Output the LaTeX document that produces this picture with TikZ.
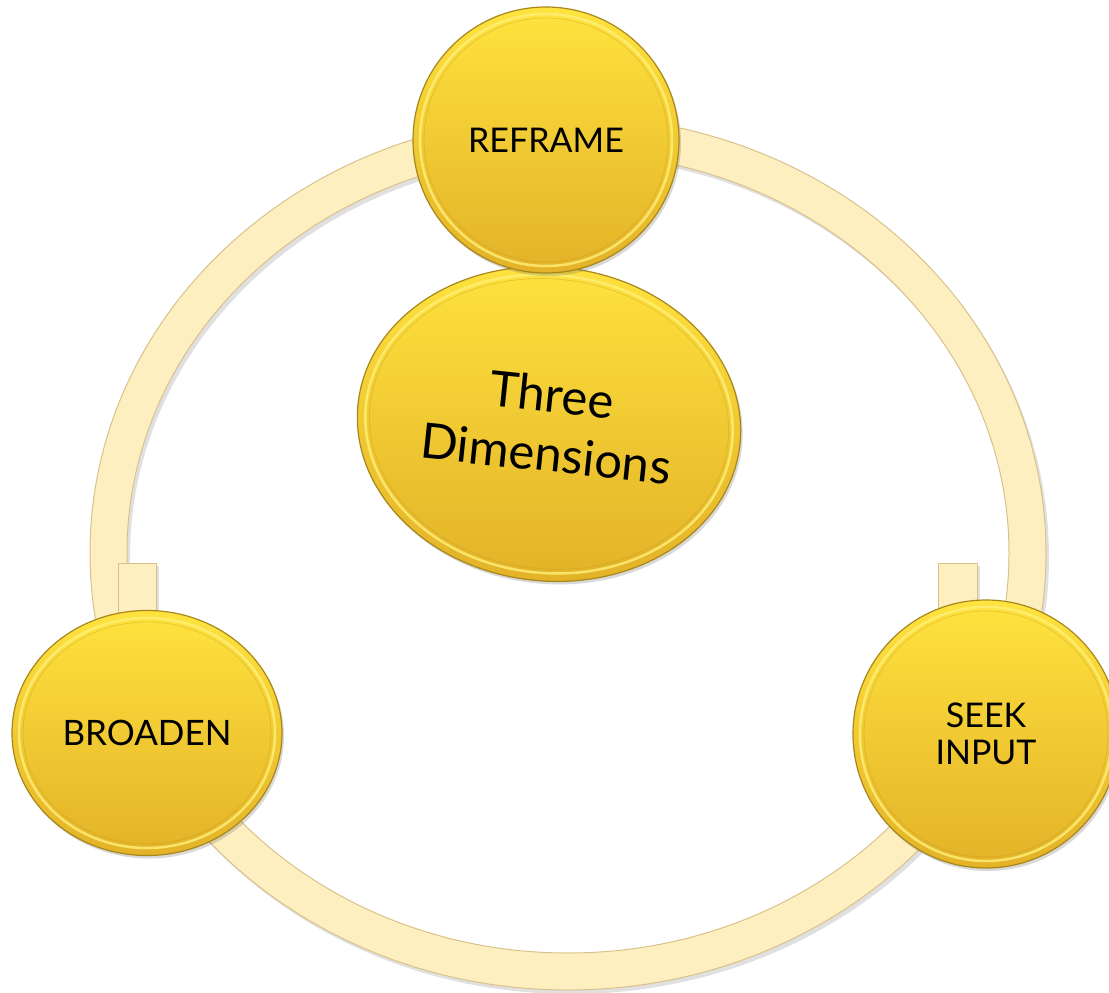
\documentclass[tikz,border=0pt]{standalone}
\usepackage{fontspec}
\setmainfont{Lato}
\usetikzlibrary{shapes.geometric,shadows}
\definecolor{ringfill}{HTML}{FEEFC1}
\definecolor{ringedge}{HTML}{D9C28A}
\definecolor{goldtop}{HTML}{FFE33E}
\definecolor{goldbot}{HTML}{E3B228}
\definecolor{goldedge}{HTML}{A8871A}
\definecolor{goldhi}{HTML}{FFF07A}
\begin{document}
\begin{tikzpicture}[x=1pt,y=-1pt,
  bubble/.style={ellipse, inner sep=0pt, shading=axis, top color=goldtop, bottom color=goldbot,
    draw=goldedge, line width=1.2pt,
    drop shadow={shadow xshift=2pt, shadow yshift=-3pt, opacity=0.25, fill=black!60},
    font=\fontsize{34}{37}\selectfont, align=center, text=black},
  bevel/.style={draw=goldhi, line width=2.5pt, opacity=0.8},
  bevelshade/.style={draw=goldbot!80!black, line width=0.8pt, opacity=0.3},
  ring/.style={fill=ringfill, draw=ringedge, line width=1pt, even odd rule},
  ringshadow/.style={fill=black, opacity=0.12, even odd rule},
]
\useasboundingbox (0,0) rectangle (1109,993);
% ring
\fill[ringshadow] (571,557) ellipse [x radius=478, y radius=437] (571,557) ellipse [x radius=441, y radius=400];
\filldraw[ring] (568,553) ellipse [x radius=478, y radius=437] (568,553) ellipse [x radius=441, y radius=400];
% arrow stubs
\fill[ringshadow] (121,566) rectangle (159,650);
\fill[ringshadow] (941,566) rectangle (980,650);
\filldraw[ring] (118,563) rectangle (156,650);
\filldraw[ring] (938,563) rectangle (977,650);
% centre
\node[bubble, minimum width=384pt, minimum height=314pt, rotate=-6,
  font=\fontsize{49}{59}\selectfont] (dims) at (549,424) {Three\\Dimensions};
\draw[bevel, rotate around={-6:(dims.center)}] (dims.center) ellipse [x radius=184, y radius=149];
\draw[bevelshade, rotate around={-6:(dims.center)}] (dims.center) ellipse [x radius=180, y radius=145];
% outer bubbles
\node[bubble, minimum width=266pt, minimum height=266pt] (reframe) at (546,140) {REFRAME};
\draw[bevel] (reframe.center) ellipse [x radius=126, y radius=126];
\draw[bevelshade] (reframe.center) ellipse [x radius=122, y radius=122];
\node[bubble, minimum width=270pt, minimum height=245pt, font=\fontsize{35}{38}\selectfont] (broaden) at (147,733) {BROADEN};
\draw[bevel] (broaden.center) ellipse [x radius=128, y radius=115];
\draw[bevelshade] (broaden.center) ellipse [x radius=124, y radius=111];
\node[bubble, minimum width=266pt, minimum height=268pt] (seek) at (986,734) {SEEK\\INPUT};
\draw[bevel] (seek.center) ellipse [x radius=126, y radius=127];
\draw[bevelshade] (seek.center) ellipse [x radius=122, y radius=123];
\end{tikzpicture}
\end{document}
